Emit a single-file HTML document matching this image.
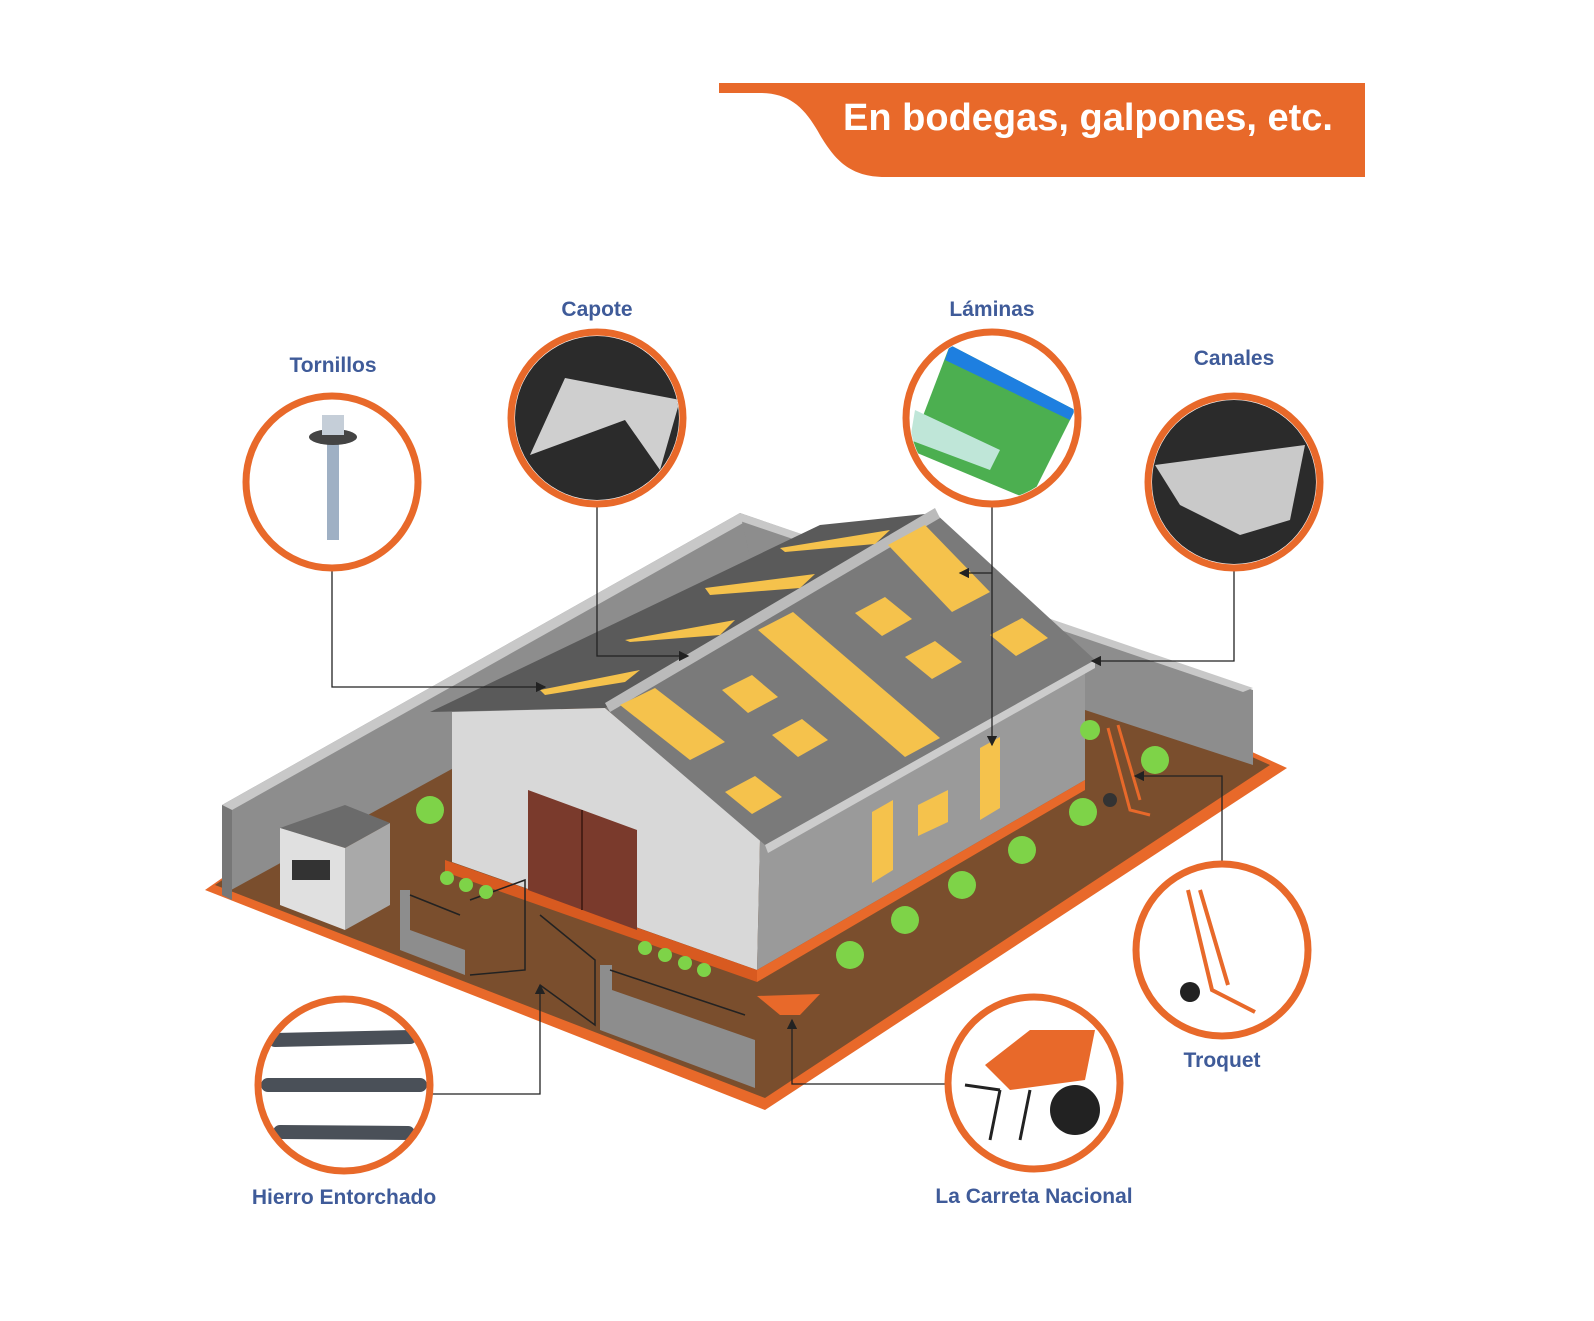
<!DOCTYPE html>
<html><head><meta charset="utf-8"><style>
html,body{margin:0;padding:0;background:#fff;}
svg{display:block;}
text{font-family:"Liberation Sans",sans-serif;font-weight:bold;}
</style></head><body>
<svg width="1594" height="1321" viewBox="0 0 1594 1321" xmlns="http://www.w3.org/2000/svg">
<defs>
<marker id="ar" markerWidth="8" markerHeight="8" refX="7" refY="4" orient="auto"><path d="M0,0 L8,4 L0,8 z" fill="#222"/></marker>
<clipPath id="c1"><circle cx="332" cy="482" r="82"/></clipPath>
<clipPath id="c2"><circle cx="597" cy="418" r="82"/></clipPath>
<clipPath id="c3"><circle cx="992" cy="418" r="82"/></clipPath>
<clipPath id="c4"><circle cx="1234" cy="482" r="82"/></clipPath>
</defs>

<path d="M719,83 L1365,83 L1365,177 L885,177 C850,177 835,160 820,135 C805,108 790,93 760,93 L719,93 Z" fill="#E8692A"/>
<text x="1088" y="130" font-size="38" fill="#fff" text-anchor="middle">En bodegas, galpones, etc.</text>

<polygon points="205,890 740,518 1287,768 765,1110" fill="#E8692A"/>
<polygon points="215,885 740,528 1270,765 765,1098" fill="#7A4E2D"/>
<polygon points="222,805 740,513 760,523 760,600 222,895" fill="#8d8d8d"/>
<polygon points="222,805 740,513 752,518 232,810" fill="#c8c8c8"/>
<polygon points="740,513 1253,690 1253,765 1085,710 760,600" fill="#8d8d8d"/>
<polygon points="740,513 1253,688 1243,692 740,521" fill="#c8c8c8"/>
<polygon points="222,805 232,810 232,900 222,895" fill="#777"/>
<polygon points="280,828 345,805 390,823 345,848" fill="#6b6b6b"/>
<polygon points="280,828 345,848 345,930 280,905" fill="#e0e0e0"/>
<polygon points="345,848 390,823 390,905 345,930" fill="#a9a9a9"/>
<rect x="292" y="860" width="38" height="20" fill="#333"/>
<polygon points="430,712 820,525 935,513 605,708" fill="#5a5a5a"/>
<polygon points="452,712 605,708 760,840 757,970 452,862" fill="#d8d8d8"/>
<polygon points="760,840 1085,665 1085,780 757,970" fill="#9a9a9a"/>
<polygon points="757,970 1085,780 1085,790 757,982" fill="#E8692A"/>
<polygon points="445,860 757,970 757,982 445,872" fill="#d85a20"/>
<polygon points="605,708 935,513 1095,660 765,845" fill="#7a7a7a"/>
<polygon points="605,703 935,508 940,518 610,712" fill="#bbb"/>
<polygon points="765,845 1095,660 1095,668 768,853" fill="#ccc"/>
<g fill="#F5C24C">
<polygon points="888,545 925,525 990,592 952,612"/>
<polygon points="758,630 793,612 940,738 905,757"/>
<polygon points="620,705 655,688 725,742 690,760"/>
<polygon points="722,690 752,675 778,697 748,713"/>
<polygon points="855,613 885,597 912,619 882,636"/>
<polygon points="905,657 935,641 962,662 932,679"/>
<polygon points="990,635 1022,618 1048,638 1016,656"/>
<polygon points="772,735 802,719 828,740 798,757"/>
<polygon points="725,792 755,776 782,797 752,814"/>
<polygon points="540,690 640,670 625,682 545,695"/>
<polygon points="625,640 735,620 720,635 630,642"/>
<polygon points="705,588 815,574 800,588 710,595"/>
<polygon points="780,548 890,530 875,544 785,552"/>
<polygon points="872,812 893,800 893,870 872,883"/>
<polygon points="918,805 948,790 948,822 918,836"/>
<polygon points="980,748 1000,737 1000,808 980,820"/>
</g>
<polygon points="528,790 637,830 637,930 528,890" fill="#7a3a2c"/>
<line x1="582" y1="810" x2="582" y2="910" stroke="#4a1f16" stroke-width="2"/>
<polygon points="400,890 410,890 410,930 465,950 465,975 400,950" fill="#8d8d8d"/>
<polygon points="600,965 612,965 612,990 755,1040 755,1088 600,1030" fill="#8d8d8d"/>
<g stroke="#222" stroke-width="1.5" fill="none">
<path d="M410,895 L460,915 M470,900 L525,880 L525,970 L470,975 M540,915 L595,960 L595,1025 L540,985 M610,970 L745,1015"/>
</g>
<g fill="#7ed348">
<circle cx="430" cy="810" r="14"/><circle cx="850" cy="955" r="14"/><circle cx="905" cy="920" r="14"/>
<circle cx="962" cy="885" r="14"/><circle cx="1022" cy="850" r="14"/><circle cx="1083" cy="812" r="14"/>
<circle cx="1155" cy="760" r="14"/><circle cx="1090" cy="730" r="10"/>
<circle cx="447" cy="878" r="7"/><circle cx="466" cy="885" r="7"/><circle cx="486" cy="892" r="7"/>
<circle cx="645" cy="948" r="7"/><circle cx="665" cy="955" r="7"/><circle cx="685" cy="963" r="7"/><circle cx="704" cy="970" r="7"/>
</g>
<polygon points="757,996 820,994 800,1015 780,1015" fill="#E8692A"/>
<path d="M1108,728 L1130,810 L1150,815 M1118,725 L1140,800" stroke="#E8692A" stroke-width="3" fill="none"/>
<circle cx="1110" cy="800" r="7" fill="#333"/>

<g stroke="#222" stroke-width="1.3" fill="none">
<path d="M332,568 V687 H545" marker-end="url(#ar)"/>
<path d="M597,506 V656 H688" marker-end="url(#ar)"/>
<path d="M992,506 V745" marker-end="url(#ar)"/>
<path d="M992,573 H960" marker-end="url(#ar)"/>
<path d="M1234,568 V661 H1092" marker-end="url(#ar)"/>
<path d="M1222,864 V776 H1135" marker-end="url(#ar)"/>
<path d="M946,1084 H792 V1020" marker-end="url(#ar)"/>
<path d="M430,1094 H540 V985" marker-end="url(#ar)"/>
</g>

<g clip-path="url(#c1)"><rect x="240" y="390" width="190" height="190" fill="#fff"/>
<rect x="327" y="440" width="12" height="100" fill="#9fb0c4"/><ellipse cx="333" cy="437" rx="24" ry="8" fill="#444"/><rect x="322" y="415" width="22" height="20" fill="#c5ced8"/></g>
<g clip-path="url(#c2)"><rect x="505" y="326" width="190" height="190" fill="#2b2b2b"/>
<polygon points="530,455 565,378 680,400 660,470 625,420" fill="#cfcfcf"/></g>
<g clip-path="url(#c3)"><rect x="900" y="326" width="190" height="190" fill="#fff"/>
<polygon points="950,345 1075,410 1030,500 910,450" fill="#4caf50"/><polygon points="950,345 1075,410 1070,420 945,360" fill="#1e7fe0"/><polygon points="915,410 1000,450 990,470 910,440" fill="#bfe6d8"/></g>
<g clip-path="url(#c4)"><rect x="1142" y="390" width="190" height="190" fill="#2b2b2b"/>
<polygon points="1155,465 1305,445 1290,520 1240,535 1180,505" fill="#c9c9c9"/></g>
<path d="M1188,890 L1212,990 L1255,1012 M1200,890 L1228,985" stroke="#E8692A" stroke-width="4" fill="none"/><circle cx="1190" cy="992" r="10" fill="#222"/>
<path d="M985,1065 L1030,1030 L1095,1030 L1085,1080 L1010,1090 Z" fill="#E8692A"/><circle cx="1075" cy="1110" r="25" fill="#222"/>
<path d="M1000,1090 L990,1140 M1030,1090 L1020,1140 M965,1085 L1000,1090" stroke="#222" stroke-width="3"/>
<g stroke="#4a5058" stroke-width="14" stroke-linecap="round"><line x1="275" y1="1040" x2="410" y2="1037"/><line x1="268" y1="1085" x2="420" y2="1085"/><line x1="280" y1="1132" x2="408" y2="1133"/></g>

<g fill="none" stroke="#E8692A" stroke-width="7">
<circle cx="332" cy="482" r="86"/><circle cx="597" cy="418" r="86"/><circle cx="992" cy="418" r="86"/>
<circle cx="1234" cy="482" r="86"/><circle cx="1222" cy="950" r="86"/><circle cx="1034" cy="1083" r="86"/><circle cx="344" cy="1085" r="86"/>
</g>

<g fill="#3f5b99" font-size="21" text-anchor="middle">
<text x="333" y="372">Tornillos</text><text x="597" y="316">Capote</text><text x="992" y="316">Láminas</text>
<text x="1234" y="365">Canales</text><text x="1222" y="1067">Troquet</text><text x="1034" y="1203">La Carreta Nacional</text>
<text x="344" y="1204">Hierro Entorchado</text>
</g>
</svg>
</body></html>
